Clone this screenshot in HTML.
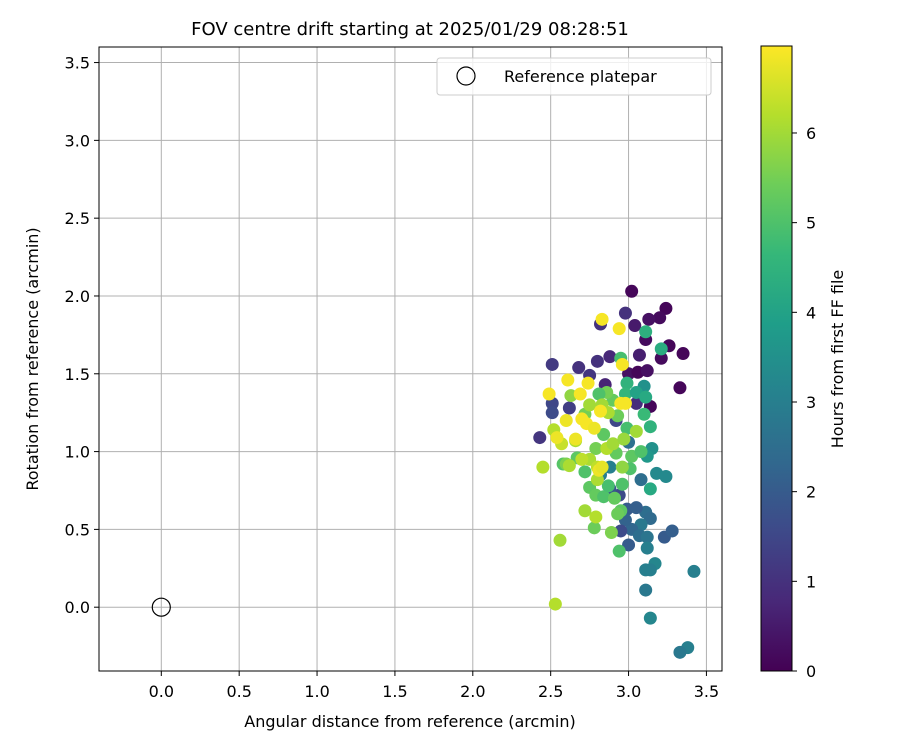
<!DOCTYPE html>
<html><head><meta charset="utf-8"><style>
body{margin:0;background:#fff;}
svg text{font-family:"DejaVu Sans","Liberation Sans",sans-serif;fill:#000;}
</style></head><body>
<svg id="chart" width="900" height="750" xmlns="http://www.w3.org/2000/svg">
<rect width="900" height="750" fill="#fff"/>
<text x="410" y="35" font-size="18" text-anchor="middle">FOV centre drift starting at 2025/01/29 08:28:51</text>
<g id="grid"></g>
<g id="pts"></g>
<rect x="99" y="47" width="623" height="624" fill="none" stroke="#000" stroke-width="1"/>
<g id="ticks"></g>
<text x="410" y="727" font-size="16" text-anchor="middle">Angular distance from reference (arcmin)</text>
<text transform="translate(38,359) rotate(-90)" font-size="16" text-anchor="middle">Rotation from reference (arcmin)</text>
<g>
<rect x="437" y="58" width="274" height="37" rx="3" fill="#fff" fill-opacity="0.8" stroke="#ccc"/>
<circle cx="466" cy="76" r="9" fill="none" stroke="#000" stroke-width="1.2"/>
<text x="504" y="82" font-size="16">Reference platepar</text>
</g>
<defs><linearGradient id="vir" x1="0" y1="1" x2="0" y2="0"></linearGradient></defs>
<rect x="761" y="46" width="31" height="625" fill="url(#vir)" stroke="#000" stroke-width="1"/>
<g id="cbticks"></g>
<text transform="translate(843,359) rotate(-90)" font-size="16" text-anchor="middle">Hours from first FF file</text>
</svg>
<script>
const xVals=[3.02,3.24,3.20,3.13,2.98,2.82,3.04,3.11,3.26,3.35,3.21,3.07,2.88,2.80,2.51,2.68,3.0,3.06,3.12,2.75,3.33,2.85,2.51,2.51,2.62,3.14,2.43,2.92,3.05,
3.11,3.21,3.10,3.15,3.12,3.18,3.24,3.14,3.11,3.14,3.08,3.02,3.0,3.07,3.12,3.23,3.28,3.12,3.17,3.11,3.14,3.11,3.14,3.42,3.38,3.33,2.99,2.98,2.95,2.94,2.88,3.05,2.88,2.82,3.08,3.0,
2.95,2.99,2.98,3.05,3.11,2.90,2.86,2.81,2.72,2.93,3.10,3.14,2.99,2.84,2.79,2.67,2.58,2.60,2.72,2.75,2.79,2.84,2.87,2.91,2.96,3.02,2.92,2.94,2.95,2.93,2.89,2.78,3.08,3.01,
2.56,2.45,2.53,2.72,2.79,2.86,2.75,2.70,2.80,2.90,2.97,3.05,2.66,2.52,2.57,2.63,2.75,2.83,2.87,2.80,2.96,2.62,
2.83,2.94,2.96,2.74,2.61,2.49,2.69,2.95,2.98,2.82,2.70,2.73,2.60,2.78,2.54,2.66,2.81,2.83];
const yVals=[2.03,1.92,1.86,1.85,1.89,1.82,1.81,1.72,1.68,1.63,1.60,1.62,1.61,1.58,1.56,1.54,1.50,1.51,1.52,1.49,1.41,1.43,1.31,1.25,1.28,1.29,1.09,1.20,1.31,
1.77,1.66,1.42,1.02,0.97,0.86,0.84,0.76,0.61,0.57,0.53,0.50,0.40,0.46,0.45,0.45,0.49,0.38,0.28,0.24,0.24,0.11,-0.07,0.23,-0.26,-0.29,0.63,0.56,0.49,0.72,0.76,0.64,0.90,0.85,0.82,1.06,
1.60,1.44,1.37,1.38,1.35,1.33,1.38,1.37,1.24,1.23,1.24,1.16,1.15,1.11,1.02,0.96,0.92,0.92,0.87,0.77,0.72,0.71,0.78,0.70,0.79,0.97,0.99,0.36,0.62,0.60,0.48,0.51,1.00,0.89,
0.43,0.90,0.02,0.62,0.58,1.02,0.95,0.95,0.90,1.05,1.08,1.13,1.07,1.14,1.05,1.36,1.30,1.30,1.25,0.82,0.90,0.91,
1.85,1.79,1.56,1.44,1.46,1.37,1.37,1.31,1.31,1.26,1.21,1.18,1.20,1.15,1.09,1.08,0.88,0.90];
const hours=[0.1,0.1,0.2,0.3,1.0,1.0,0.5,0.2,0.1,0.1,0.2,0.6,0.8,1.0,1.2,1.0,0.3,0.1,0.3,1.1,0.1,0.7,1.5,1.6,1.3,0.1,1.1,1.5,0.9,
4.4,4.3,3.5,3.5,3.7,3.3,3.3,4.2,2.5,2.4,2.8,2.3,2.0,2.5,2.7,2.0,2.1,3.0,3.2,3.0,3.0,2.8,3.2,3.0,3.0,2.8,2.0,2.2,1.6,1.6,1.9,2.1,3.0,3.0,2.5,2.6,
4.9,4.5,4.6,4.0,4.2,5.3,5.5,5.0,5.5,5.4,4.7,4.5,4.9,5.2,5.5,5.2,5.1,5.6,5.0,5.2,5.3,5.0,4.9,5.3,5.0,5.2,5.3,5.0,5.2,5.4,5.6,5.4,5.0,5.0,
6.0,6.2,6.2,6.0,6.2,6.2,6.1,6.3,6.3,6.0,5.9,6.0,6.1,6.2,6.4,5.8,6.0,6.0,6.1,6.1,5.8,6.1,
6.9,6.9,6.9,6.9,6.9,6.9,6.9,6.9,6.9,6.9,6.9,6.9,6.8,6.8,6.8,6.8,6.8,6.7];
const xTicks=[0,0.5,1,1.5,2,2.5,3,3.5];
const yTicks=[0,0.5,1,1.5,2,2.5,3,3.5];
const cTicks=[0,1,2,3,4,5,6];
const X0=-0.4,X1=3.6,Y0=-0.41,Y1=3.6,HMAX=6.97;
const sx=v=>99+(v-X0)/(X1-X0)*623;
const sy=v=>671-(v-Y0)/(Y1-Y0)*624;
const sc=h=>671-h/HMAX*625;
const stops=[[68,1,84],[72,40,120],[62,73,137],[49,104,142],[38,130,142],[31,158,137],[53,183,121],[109,205,89],[180,222,44],[253,231,37]];
function vir(t){t=Math.max(0,Math.min(1,t));const f=t*(stops.length-1),i=Math.min(Math.floor(f),stops.length-2),r=f-i;
return 'rgb('+stops[i].map((c,k)=>Math.round(c+(stops[i+1][k]-c)*r)).join(',')+')';}
const NS='http://www.w3.org/2000/svg';
function mk(tag,attrs,parent){const e=document.createElementNS(NS,tag);for(const k in attrs)e.setAttribute(k,attrs[k]);parent.appendChild(e);return e;}
const grid=document.getElementById('grid'),ticks=document.getElementById('ticks');
xTicks.forEach(v=>{const x=sx(v);
const g=mk('line',{x1:x,x2:x,y1:47,y2:671,stroke:'#b0b0b0','stroke-width':1},grid);


mk('line',{x1:x,x2:x,y1:671,y2:676,stroke:'#000'},ticks);
const t=mk('text',{x:x,y:697,'font-size':16,'text-anchor':'middle'},ticks);t.textContent=v.toFixed(1);

});
yTicks.forEach(v=>{const y=sy(v);
const g=mk('line',{x1:99,x2:722,y1:y,y2:y,stroke:'#b0b0b0','stroke-width':1},grid);


mk('line',{x1:94,x2:99,y1:y,y2:y,stroke:'#000'},ticks);
const t=mk('text',{x:90,y:y+6,'font-size':16,'text-anchor':'end'},ticks);t.textContent=v.toFixed(1);

});
const pts=document.getElementById('pts');
xVals.forEach((v,i)=>{const c=mk('circle',{cx:sx(v),cy:sy(yVals[i]),r:6.5,fill:vir(hours[i]/HMAX)},pts);

});
const ref=mk('circle',{cx:sx(0),cy:sy(0),r:9,fill:'none',stroke:'#000','stroke-width':1.2},pts);


const grad=document.getElementById('vir');
stops.forEach((s,i)=>mk('stop',{offset:(i/(stops.length-1)),'stop-color':'rgb('+s.join(',')+')'},grad));
const cb=document.getElementById('cbticks');
cTicks.forEach(h=>{const y=sc(h);
mk('line',{x1:792,x2:797,y1:y,y2:y,stroke:'#000'},cb);
const t=mk('text',{x:806,y:y+6,'font-size':16},cb);t.textContent=h;

});
</script>
</body></html>
